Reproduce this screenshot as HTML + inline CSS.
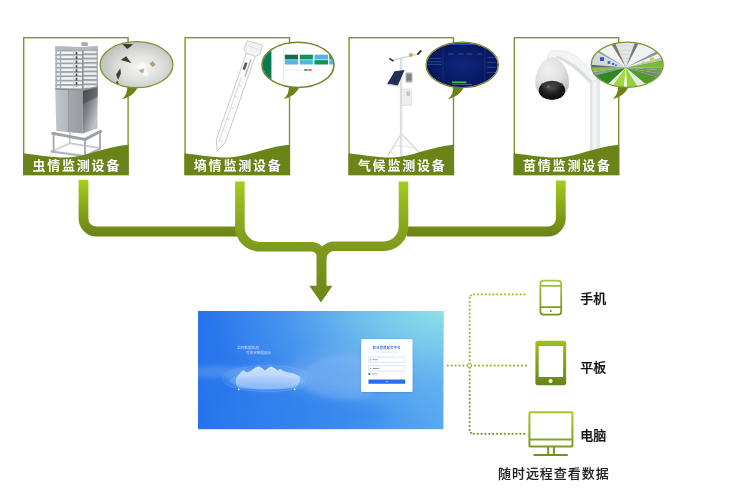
<!DOCTYPE html>
<html lang="zh-CN">
<head>
<meta charset="utf-8">
<title>监测设备</title>
<style>
html,body{margin:0;padding:0;background:#fff;}
body{width:750px;height:500px;overflow:hidden;position:relative;font-family:"Liberation Sans","Noto Sans CJK SC",sans-serif;}
svg{position:absolute;left:0;top:0;display:block;will-change:transform;}
text{font-family:"Liberation Sans","Noto Sans CJK SC",sans-serif;}
.cap{font-size:13px;font-weight:700;fill:#fff;letter-spacing:1.8px;}
.lab{font-size:13px;font-weight:500;fill:#111;stroke:#111;stroke-width:.22px;}
</style>
</head>
<body>
<svg width="750" height="500" viewBox="0 0 750 500">
<defs>
  <linearGradient id="gPipe" gradientUnits="userSpaceOnUse" x1="0" y1="180" x2="0" y2="234">
    <stop offset="0" stop-color="#a5cd1e"/>
    <stop offset="1" stop-color="#6c8416"/>
  </linearGradient>
  <linearGradient id="gPipe2" gradientUnits="userSpaceOnUse" x1="0" y1="181" x2="0" y2="300">
    <stop offset="0" stop-color="#a5cd1e"/>
    <stop offset="0.2" stop-color="#94b61e"/>
    <stop offset="0.45" stop-color="#84a11e"/>
    <stop offset="0.6" stop-color="#7c981d"/>
    <stop offset="1" stop-color="#6c8818"/>
  </linearGradient>
  <linearGradient id="gIcon" x1="0" y1="0" x2="0" y2="1">
    <stop offset="0" stop-color="#a3c628"/>
    <stop offset="1" stop-color="#6a8c1c"/>
  </linearGradient>
  <linearGradient id="gScreen" x1="0" y1="0" x2="1" y2="0">
    <stop offset="0" stop-color="#2673ec"/>
    <stop offset="0.5" stop-color="#3c8bee"/>
    <stop offset="1" stop-color="#58a8f1"/>
  </linearGradient>
  <radialGradient id="gScreenTR" cx="1" cy="0" r="0.95">
    <stop offset="0" stop-color="#93e6e6" stop-opacity=".9"/>
    <stop offset="0.35" stop-color="#8bdcea" stop-opacity=".6"/>
    <stop offset="0.7" stop-color="#80c8f0" stop-opacity=".22"/>
    <stop offset="1" stop-color="#80c8f0" stop-opacity="0"/>
  </radialGradient>
  <linearGradient id="gIconP" gradientUnits="userSpaceOnUse" x1="0" y1="280" x2="0" y2="315">
    <stop offset="0" stop-color="#a6c832"/><stop offset="1" stop-color="#6f911d"/>
  </linearGradient>
  <linearGradient id="gIconT" gradientUnits="userSpaceOnUse" x1="0" y1="341" x2="0" y2="385">
    <stop offset="0" stop-color="#9dc024"/><stop offset="1" stop-color="#658619"/>
  </linearGradient>
  <linearGradient id="gIconM" gradientUnits="userSpaceOnUse" x1="0" y1="411" x2="0" y2="456">
    <stop offset="0" stop-color="#a6c82c"/><stop offset="1" stop-color="#6f911d"/>
  </linearGradient>
  <linearGradient id="gSide" x1="0" y1="0" x2="1" y2="1">
    <stop offset="0" stop-color="#4d5054"/><stop offset="0.4" stop-color="#80848a"/><stop offset="0.8" stop-color="#c2c5c9"/><stop offset="1" stop-color="#b0b3b8"/>
  </linearGradient>
  <linearGradient id="gFront" x1="0" y1="0" x2="1" y2="0">
    <stop offset="0" stop-color="#c2c5c9"/><stop offset="0.47" stop-color="#b4b8bc"/><stop offset="0.5" stop-color="#a4a8ad"/><stop offset="1" stop-color="#989ca2"/>
  </linearGradient>
  <pattern id="pSlat" patternUnits="userSpaceOnUse" x="0" y="49.6" width="10" height="4.3">
    <rect width="10" height="4.3" fill="#f3f4f5"/><rect y="0" width="10" height="1.8" fill="#9fa3a8"/>
  </pattern>
  <pattern id="pSlat2" patternUnits="userSpaceOnUse" x="0" y="49" width="10" height="4.3">
    <rect width="10" height="4.3" fill="#eeeff0"/><rect y="0" width="10" height="1.9" fill="#9da1a5"/>
  </pattern>
  <radialGradient id="gB1" cx="0.55" cy="0.55" r="0.6">
    <stop offset="0" stop-color="#f4f5f4"/><stop offset="0.45" stop-color="#dfe1df"/><stop offset="1" stop-color="#b4b8b4"/>
  </radialGradient>
  <radialGradient id="gB3" cx="0.5" cy="0.5" r="0.6">
    <stop offset="0" stop-color="#10277c"/><stop offset="1" stop-color="#061152"/>
  </radialGradient>
  <linearGradient id="gPole" x1="0" y1="0" x2="1" y2="0">
    <stop offset="0" stop-color="#d5d9dd"/><stop offset="0.4" stop-color="#f7f8f9"/><stop offset="1" stop-color="#dfe2e6"/>
  </linearGradient>
  <radialGradient id="gDome" cx="0.38" cy="0.35" r="0.75">
    <stop offset="0" stop-color="#f1f1f1"/><stop offset="0.55" stop-color="#e0e0e0"/><stop offset="1" stop-color="#c3c3c3"/>
  </radialGradient>
  <radialGradient id="gLens" cx="0.45" cy="0.3" r="0.8">
    <stop offset="0" stop-color="#5a5a5a"/><stop offset="0.5" stop-color="#1c1c1c"/><stop offset="1" stop-color="#050505"/>
  </radialGradient>
  <filter id="blur1" x="-20%" y="-20%" width="140%" height="140%"><feGaussianBlur stdDeviation="1"/></filter>
  <filter id="blur2" x="-30%" y="-30%" width="160%" height="160%"><feGaussianBlur stdDeviation="2.2"/></filter>
  <filter id="blur6" x="-30%" y="-30%" width="160%" height="160%"><feGaussianBlur stdDeviation="7"/></filter>
  <filter id="blurS" x="-10%" y="-10%" width="120%" height="120%"><feGaussianBlur stdDeviation=".45"/></filter>
  <filter id="blurC" x="-10%" y="-20%" width="120%" height="140%"><feGaussianBlur stdDeviation=".75"/></filter>
  <clipPath id="clipScreen"><rect x="198" y="311" width="245.4" height="118.2"/></clipPath>
  <linearGradient id="gCloud" x1="0" y1="0" x2="0" y2="1">
    <stop offset="0" stop-color="#fff" stop-opacity=".8"/><stop offset="0.45" stop-color="#e6f1ff" stop-opacity=".62"/><stop offset="1" stop-color="#cfe4ff" stop-opacity=".3"/>
  </linearGradient>
  <linearGradient id="gDots" gradientUnits="userSpaceOnUse" x1="0" y1="294" x2="0" y2="434">
    <stop offset="0" stop-color="#a8c232"/><stop offset="0.5" stop-color="#98b232"/><stop offset="1" stop-color="#7f9432"/>
  </linearGradient>
  <!-- card wave shape, relative to card origin -->
  <path id="wave" d="M0 116.2 C14 118 30 120.8 45 120.4 C63 120 82 109.6 105.6 107.8 V138 H0 Z"/>
  <!-- speech bubble tail relative to bubble centre -->
  <path id="tail" d="M-9 21.5 C-9.5 27 -11 31 -14.6 34 C-7 32.5 -2 28 1.6 21.5 Z"/>
  <clipPath id="clipB1"><ellipse cx="0" cy="0" rx="36" ry="22.6"/></clipPath>
  <clipPath id="clipB"><ellipse cx="0" cy="0" rx="35.6" ry="22.2"/></clipPath>
</defs>

<!-- ======== connectors ======== -->
<g fill="none" stroke="url(#gPipe)" stroke-width="9.8">
  <path d="M83.5 179.9 V218.5 A13 13 0 0 0 96.5 231.5 H237"/>
  <path d="M560.8 180.4 V218.5 A13 13 0 0 1 547.8 231.5 H407"/>
</g>
<g fill="none" stroke="url(#gPipe2)" stroke-width="9.6">
  <path d="M239.9 181.6 V227 A19.7 19.7 0 0 0 259.6 246.7 H311.5 A10 10 0 0 1 321.5 256.7 V287"/>
  <path d="M403.5 181.6 V226.5 A19.7 19.7 0 0 1 383.8 246.2 H334.5 A13 13 0 0 0 321.5 259.2 V287"/>
</g>
<polygon points="309.3,285.8 332.5,285.8 321,302.6" fill="#6e8a19"/>

<!-- ======== cards ======== -->
<g id="cards">
  <!-- card frames -->
  <g fill="#fff" stroke="#7f9330" stroke-width="1.4">
    <rect x="23.7" y="37.7" width="104.4" height="137"/>
    <rect x="185.1" y="37.7" width="104.4" height="137"/>
    <rect x="349.1" y="37.7" width="104.4" height="137"/>
    <rect x="514.3" y="37.7" width="104.4" height="137"/>
  </g>

  <g id="art1">
    <!-- stand -->
    <g fill="none" stroke-linecap="square">
      <path d="M69.8 132 V143.4 L100 148" stroke="#c3c6ca" stroke-width="1.6"/>
      <path d="M51.6 151.4 L69.8 143.4" stroke="#c9ccd0" stroke-width="1.6"/>
      <path d="M51.8 151.6 L85 156 L100 148.6" stroke="#b1b5ba" stroke-width="2.2"/>
      <path d="M53.6 133 V152 M85 139 V155 M100 131.6 V148.6" stroke="#a9adb2" stroke-width="1.9"/>
      <path d="M53 133.4 L85 139.4 L100.4 131.4" stroke="#9ea2a7" stroke-width="3"/>
    </g>
    <!-- louvre cage -->
    <polygon points="55.2,46.4 82.8,47.2 82.8,90.4 55.2,88.8" fill="url(#pSlat)"/>
    <polygon points="82.8,47.2 97.8,46.2 97.8,86.6 82.8,90.4" fill="url(#pSlat2)"/>
    <path d="M76.5 52 V87" stroke="#2f3135" stroke-width="1.7" stroke-dasharray="2.6 1.7" opacity=".85"/>
    <path d="M73.6 50 V88" stroke="#b9bcc0" stroke-width=".8"/>
    <path d="M56.2 46.4 V88.8 M60.6 46.6 V89 " stroke="#aeb2b6" stroke-width="1.5" fill="none"/>
    <path d="M82.8 47.2 V90.4" stroke="#8f9398" stroke-width="1.6"/>
    <path d="M97.2 46.2 V86.6" stroke="#a6aaae" stroke-width="1.3"/>
    <polygon points="55.2,46.2 82.8,47 97.8,46 97.8,49.2 82.8,50.4 55.2,49.6" fill="#b4b7bb"/>
    <path d="M81.8 46 V42.6 H87.4 V46" fill="#a9acb0" stroke="#96999e" stroke-width=".6"/>
    <!-- lower cabinet -->
    <polygon points="55.2,88.8 82.8,90.4 82.8,133.6 56.3,131" fill="url(#gFront)"/>
    <polygon points="82.8,90.4 97.8,86.6 97.4,128.4 82.8,133.6" fill="url(#gSide)"/>
    <polygon points="82.8,90.4 97.8,86.6 97.7,97 82.8,104" fill="#3c3e42" opacity=".5"/>
    <path d="M68.6 89.6 V132.2" stroke="#8e9297" stroke-width=".8"/>
    <path d="M55.2 88.8 L82.8 90.4 L97.8 86.6" stroke="#8a8e93" stroke-width="1.3" fill="none"/>
  </g>
  <g id="art2">
    <!-- soil probe tube : axis from cap (252.5,50) to tip (217.5,151) -->
    <g transform="translate(252.6 49.5) rotate(19.2)">
      <path d="M-4.7 4 H4.7 V97 L0 107.5 L-4.7 97 Z" fill="#fbfbfb" stroke="#cacccf" stroke-width=".9"/>
      <path d="M-1.5 30 V98 M-1.5 38 H1.5 M-1.5 50 H1.5 M-1.5 62 H1.5 M-1.5 74 H1.5 M-1.5 86 H1.5 M-1.5 97 H1.5" stroke="#c9cbcd" stroke-width=".6" fill="none"/>
      <rect x="-3" y="14.5" width="2.6" height="7.4" fill="#55585c"/>
      <rect x="1" y="10" width="1.4" height="18" fill="#b5b7ba"/>
      <path d="M-8 -6.5 L8 -7.5 L8.6 2.2 L5 5.6 H-5 L-8.6 2.2 Z" fill="#f3f3f3" stroke="#c9cbcd" stroke-width=".8"/>
      <path d="M-8.3 -2 H8.3" stroke="#d6d8da" stroke-width=".7"/>
    </g>
  </g>
  <g id="art3">
    <!-- weather station -->
    <path d="M401 134 L387.6 156 M401.6 134 L422.5 156 M401.3 140 V158" stroke="#d7dadd" stroke-width="1.4" fill="none"/>
    <path d="M392 147 L401 145.4 L414 148" stroke="#e1e3e5" stroke-width=".9" fill="none"/>
    <rect x="400.2" y="58" width="2.3" height="96" fill="#e4e6e8"/>
    <path d="M400.3 58 V154" stroke="#c9ccd0" stroke-width=".6"/>
    <path d="M391 60.6 L420.5 53.4" stroke="#d3d6d9" stroke-width="1.5"/>
    <path d="M389.4 58.4 L393.4 61.2" stroke="#2a2a2a" stroke-width="1.5"/>
    <path d="M417.4 54.6 L421.2 50.4" stroke="#2a2a2a" stroke-width="1.6"/>
    <rect x="409.2" y="53.2" width="3.4" height="3.4" fill="#c7a63a"/>
    <polygon points="394.6,71.2 404.6,70 397.8,85.4 387.2,83.8" fill="#1f2f55"/>
    <polygon points="387.2,83.8 397.8,85.4 397.4,86.6 386.8,85" fill="#cfd2d6"/>
    <rect x="405.6" y="72.6" width="6.8" height="10" rx="1" fill="#a9adb2"/>
    <rect x="406.6" y="74.2" width="4.8" height="6.4" fill="#7d8186"/>
    <rect x="401.4" y="89" width="9.8" height="16.2" fill="#eceeef" stroke="#cfd2d5" stroke-width=".6"/>
    <rect x="406.4" y="91.4" width="3.6" height="4.6" fill="#c3c7cc"/>
  </g>
  <g id="art4">
    <!-- camera pole -->
    <rect x="590.2" y="76" width="9.6" height="80" fill="url(#gPole)"/>
    <path d="M547.4 60 Q547 51 553.6 50.6 L566 51.6 Q571.6 52.4 577 57 L599.6 77.6 L590.2 83.6 Q572 63.6 556 57.6 Z" fill="#f3f4f5" stroke="#d9dcdf" stroke-width=".6"/>
    <path d="M556 57.6 Q572 63.6 590.2 83.6 L592.4 81 Q574 61 557 55.4 Z" fill="#d4d8dc" opacity=".8"/>
    <!-- dome shell -->
    <path d="M551.8 57 C543 58 535.3 70 535.3 82 C535.3 87.4 536.4 91 539.4 93.4 L564.8 93.4 C567.8 91 569 87.4 569 82 C569 70 561 58 551.8 57 Z" fill="url(#gDome)"/>
    <!-- dark lens -->
    <ellipse cx="552" cy="90.4" rx="13.2" ry="9.6" fill="url(#gLens)"/>
    <ellipse cx="552" cy="84.6" rx="11.4" ry="2.6" fill="#3a3a3a" opacity=".7"/>
    <ellipse cx="548.4" cy="86.6" rx="1.4" ry="1" fill="#9a9a9a" opacity=".7"/>
  </g>

  <!-- green wave footers -->
  <g fill="#6b8417">
    <use href="#wave" x="23" y="37"/>
    <use href="#wave" x="184.4" y="37"/>
    <use href="#wave" x="348.4" y="37"/>
    <use href="#wave" x="513.6" y="37"/>
  </g>
  <g class="cap" text-anchor="middle">
    <text x="76.8" y="169.9">虫情监测设备</text>
    <text x="238.2" y="169.9">墒情监测设备</text>
    <text x="402.2" y="169.9">气候监测设备</text>
    <text x="567.4" y="169.9">苗情监测设备</text>
  </g>

  <g id="bubbles">
    <!-- tails -->
    <g fill="#6b8417">
      <use href="#tail" x="136.6" y="65.2"/>
      <use href="#tail" x="298.3" y="65"/>
      <use href="#tail" x="462.8" y="65"/>
      <use href="#tail" x="627.4" y="64.9"/>
    </g>
    <!-- bubble 1 : insect photo -->
    <g transform="translate(136.5 64.7)">
      <g clip-path="url(#clipB1)">
        <rect x="-38" y="-25" width="76" height="50" fill="url(#gB1)"/>
        <g filter="url(#blurS)">
        <g fill="#453d2b">
          <polygon points="-14.2,-20.6 -3.6,-20.8 -6,-18 -9.4,-15.6"/>
          <polygon points="-15.8,-4.6 -10.4,-8.4 -5.2,-1.8 -10.4,-3.2"/>
          <polygon points="-16.2,3.6 -20.4,9.8 -18.4,15.2 -15.6,8.8"/>
          <polygon points="-21.8,19.4 -19,16 -17,21"/>
        </g>
        <g fill="#b39d70">
          <polygon points="2.6,5.4 7.6,3.6 7.2,8.6 4.6,7.8"/>
          <polygon points="12.6,-0.6 16,-3.6 19.2,0 16,2.2"/>
        </g>
        </g>
        <ellipse cx="5.5" cy="1.4" rx="3.6" ry="3" fill="#fff" opacity=".9" filter="url(#blur1)"/>
        <ellipse cx="9" cy="8.6" rx="3" ry="2.6" fill="#fff" opacity=".8" filter="url(#blur1)"/>
        <ellipse cx="12" cy="1.4" rx="2.4" ry="2" fill="#fff" opacity=".7" filter="url(#blur1)"/>
      </g>
      <ellipse cx="0" cy="0" rx="36.4" ry="23" fill="none" stroke="#7c9230" stroke-width="1.3"/>
    </g>
    <!-- bubble 2 : dashboard -->
    <g transform="translate(298 64.9)">
      <g clip-path="url(#clipB)">
        <rect x="-37" y="-24" width="74" height="48" fill="#fdfefe"/>
        <rect x="-37" y="-24" width="10.4" height="48" fill="#0a7a55"/>
        <rect x="-14.6" y="-16" width=".5" height="40" fill="#d9dcdc"/>
        <rect x="-13.2" y="-10.2" width="13.2" height="4.8" fill="#0b6f4c"/>
        <rect x="1.7" y="-10.2" width="13.2" height="4.8" fill="#12925f"/>
        <rect x="16.4" y="-10.2" width="13.6" height="4.8" fill="#56b3ea"/>
        <rect x="31.2" y="-10.2" width="8" height="4.8" fill="#12925f"/>
        <rect x="-13.2" y="-4.8" width="13.2" height="4.4" fill="#56b3ea"/>
        <rect x="1.7" y="-4.8" width="13.2" height="4.4" fill="#56b3ea"/>
        <rect x="16.4" y="-4.8" width="13.6" height="4.4" fill="#12925f"/>
        <rect x="31.2" y="-4.8" width="8" height="4.4" fill="#56b3ea"/>
        <rect x="6.2" y="4.2" width="3.4" height="1.8" fill="#1aa36a"/>
        <rect x="10.4" y="4.2" width="3.2" height="1.8" fill="#ef5a4c"/>
        <rect x="-13" y="4.9" width="18" height=".4" fill="#c9cdd0"/>
      </g>
      <ellipse cx="0" cy="0" rx="36" ry="22.6" fill="none" stroke="#73882a" stroke-width="1.6"/>
    </g>
    <!-- bubble 3 : dark data screen -->
    <g transform="translate(462.2 64.9)">
      <g clip-path="url(#clipB)">
        <rect x="-37" y="-24" width="74" height="48" fill="url(#gB3)"/>
        <rect x="-12" y="-22.6" width="34" height="2.6" fill="#1a66cf" opacity=".8"/>
        <rect x="-19.5" y="-18" width=".5" height="40" fill="#2b4fae" opacity=".7"/>
        <rect x="22.5" y="-18" width=".5" height="40" fill="#2b4fae" opacity=".7"/>
        <g fill="#4f7fd6" opacity=".55">
          <rect x="-34" y="-7" width="13" height=".8"/><rect x="-36" y="-3.5" width="15" height=".8"/><rect x="-36" y="-1" width="15" height=".8"/>
          <rect x="-14" y="-11.5" width="5" height="1"/><rect x="-4" y="-11.5" width="5" height="1"/><rect x="5" y="-11.5" width="5" height="1"/><rect x="15" y="-11.5" width="5" height="1"/>
          <rect x="25" y="-8" width="9" height=".8"/><rect x="25" y="-3" width="9" height=".8"/><rect x="25" y="2" width="9" height=".8"/><rect x="25" y="7" width="9" height=".8"/>
        </g>
        <rect x="-10.2" y="16.6" width="14.4" height="1.7" fill="#2fd23a"/>
        <rect x="-10" y="19.4" width="20" height=".7" fill="#8f93b5" opacity=".8"/>
      </g>
      <ellipse cx="0" cy="0" rx="36.2" ry="22.8" fill="none" stroke="#6f8426" stroke-width="1.1"/>
    </g>
    <!-- bubble 4 : greenhouse -->
    <g transform="translate(627.2 64.8)">
      <g clip-path="url(#clipB)">
        <rect x="-37" y="-24" width="74" height="48" fill="#f0f3f4"/>
        <g filter="url(#blurS)">
        <polygon points="-1.3,2.8 -15.2,-24 10.4,-24" fill="#e3e7e8"/>
        <path d="M-12 -19 H8 M-9.6 -14.6 H6.4 M-7.4 -10.4 H4.8 M-5.4 -6.4 H3.2 M-3.6 -3 H1.8" stroke="#c5cbce" stroke-width=".6" fill="none"/>
        <polygon points="-1.3,2.8 -18,-24 -13.2,-24" fill="#7d7866"/>
        <polygon points="-1.3,2.8 8.4,-24 12.8,-24" fill="#7d7866"/>
        <polygon points="-1.3,2.8 -37,-19.5 -37,-16" fill="#9aa0a4"/>
        <polygon points="-1.3,2.8 37,-17.5 37,-13.5" fill="#8f9698"/>
        <!-- left wall -->
        <polygon points="-1.3,2.8 -37,-15 -37,1" fill="#d3d8db"/>
        <polygon points="-1.3,2.8 -37,0 -37,3" fill="#60676b"/>
        <polygon points="-1.3,2.8 -37,3 -37,7.4" fill="#84c43c"/>
        <polygon points="-1.3,2.8 -37,7.4 -37,12" fill="#8f9597"/>
        <polygon points="-1.3,2.8 -37,12 -37,24 -24,24" fill="#2f8a1e"/>
        <polygon points="-1.3,2.8 -24,24 -17,24" fill="#eef2ee"/>
        <polygon points="-1.3,2.8 -17,24 -3.4,24" fill="#a2d83e"/>
        <polygon points="-1.3,2.8 -3.4,24 0,24" fill="#f2f5f2"/>
        <polygon points="-1.3,2.8 0,24 12,24" fill="#95d139"/>
        <polygon points="-1.3,2.8 12,24 24,24" fill="#e8ede8"/>
        <polygon points="-1.3,2.8 24,24 37,22 37,14.5" fill="#4f9b2a"/>
        <polygon points="-1.3,2.8 37,14.5 37,9.6" fill="#7b8280"/>
        <polygon points="-1.3,2.8 37,9.6 37,5.6" fill="#5fab2e"/>
        <polygon points="-1.3,2.8 37,5.6 37,3" fill="#8a908e"/>
        <polygon points="-1.3,2.8 37,3 37,-5" fill="#74be33"/>
        <polygon points="-1.3,2.8 37,-5 37,-8" fill="#b9c0bf"/>
        <rect x="-27.2" y="-7.6" width="4" height="3.8" fill="#2157c9"/>
        <rect x="-19.6" y="-3.6" width="2.6" height="2.6" fill="#2c60cc"/>
        <rect x="-15" y="-1.8" width="2" height="2" fill="#2c60cc"/>
        <rect x="-12" y="-.4" width="1.6" height="1.6" fill="#3a6ad0"/>
        <rect x="22.6" y="-7.4" width="4.4" height="3.2" fill="#d8d440"/>
        <rect x="14.8" y="-3.4" width="2.6" height="1.8" fill="#d0d060" opacity=".8"/>
        </g>
      </g>
      <ellipse cx="0" cy="0" rx="36" ry="22.6" fill="none" stroke="#7c9230" stroke-width="1.3"/>
    </g>
  </g>
</g>

<!-- ======== platform screen ======== -->
<g id="screen">
  <rect x="198" y="311" width="245.4" height="118.2" fill="url(#gScreen)"/>
  <rect x="198" y="311" width="245.4" height="118.2" fill="url(#gScreenTR)"/>
  <g clip-path="url(#clipScreen)">
    <ellipse cx="350" cy="372" rx="60" ry="26" fill="#7fb4f2" opacity=".35" filter="url(#blur6)"/>
    <ellipse cx="215" cy="372" rx="40" ry="6" fill="#7fb0f5" opacity=".35" filter="url(#blur2)"/>
    <ellipse cx="300" cy="415" rx="90" ry="18" fill="#2f7fee" opacity=".35" filter="url(#blur6)"/>
    <path d="M296 378 C305 368 318 358 336 355 C350 353 362 356 372 362 L372 396 C355 402 330 400 312 392 C304 388 298 384 296 378 Z" fill="#9cc6f8" opacity=".22" filter="url(#blur2)"/>
    <ellipse cx="267" cy="378" rx="42" ry="13" fill="#a9d0ff" opacity=".22" filter="url(#blur2)"/>
    <!-- rings -->
    <ellipse cx="267.3" cy="378.6" rx="45" ry="13" fill="none" stroke="#9cc8fb" stroke-width=".6" opacity=".4"/>
    <ellipse cx="267" cy="380.6" rx="37" ry="8.6" fill="#8fc0fb" opacity=".3"/>
    <ellipse cx="267" cy="381" rx="31" ry="6.6" fill="none" stroke="#cfe4ff" stroke-width=".5" opacity=".4"/>
    <!-- cloud / mountain -->
    <path d="M236.7 377 L239.5 373.5 L243.3 370.3 L247 372.5 L250.5 371 L255 367.8 L258.7 366.3 L262 368 L265 370.5 L268 368 L271.3 366.5 L275 368.6 L277.5 370.4 L280 369 L284 371.2 L289 372.4 L294 373.6 L300 376.6 C301 381 298 386 294.6 388 Q267 391.4 238.6 388 C235.5 385 235 380 236.7 377 Z" fill="url(#gCloud)" filter="url(#blurC)"/>
    <circle cx="238.7" cy="389.4" r=".9" fill="#fff" opacity=".9"/><circle cx="294.7" cy="389.4" r=".9" fill="#fff" opacity=".9"/>
    <!-- slogan -->
    <g fill="#fff" style="font-size:3.6px;font-weight:400" opacity=".72">
      <text x="237.2" y="348.6">实时数据监测</text>
      <text x="246" y="353.6">可视化数据展示</text>
    </g>
    <!-- login panel -->
    <rect x="361" y="339.6" width="51.6" height="53.2" rx="1.6" fill="#1d4f9f" opacity=".35" filter="url(#blur1)"/>
    <rect x="361" y="339" width="51.6" height="53" rx="1.6" fill="#fff"/>
    <text x="386.8" y="349.4" text-anchor="middle" style="font-size:3.1px;font-weight:700;letter-spacing:.4px" fill="#2a6be8">农业管理服务平台</text>
    <rect x="375.8" y="351.8" width="22.2" height=".5" fill="#b9cdf3"/>
    <g fill="#fff" stroke="#b5cdf6" stroke-width=".55">
      <rect x="368.4" y="357" width="36.8" height="5.4" rx=".6"/>
      <rect x="368.4" y="365.7" width="36.8" height="5.4" rx=".6"/>
    </g>
    <g fill="#8c95a6"><rect x="370" y="359.2" width="1.2" height="1.2"/><rect x="372.6" y="359.3" width="5" height=".9"/>
      <rect x="370" y="367.9" width="1.2" height="1.2"/><rect x="372.6" y="368" width="6.6" height=".9"/>
      <rect x="371.8" y="373.5" width="6" height=".8"/></g>
    <circle cx="369.4" cy="373.9" r="1.1" fill="#2a6be8"/>
    <rect x="368.4" y="379.6" width="36.8" height="4.2" rx=".5" fill="#2470ee"/>
    <rect x="385.8" y="381.4" width="2" height=".7" fill="#dce9ff"/>
  </g>
</g>

<!-- ======== dotted links ======== -->
<g fill="none" stroke="url(#gDots)" stroke-width="2.2" stroke-linecap="round" stroke-dasharray="0 3.877">
  <path d="M524.4 294.4 H473"/>
  <path d="M469.7 298 V431"/>
  <path d="M524.2 433.8 H473"/>
  <path d="M447.8 365.6 H527" stroke-dasharray="0 3.9"/>
</g>
<circle cx="471" cy="295.5" r="1.1" fill="#a6bf32"/>
<circle cx="471" cy="432.8" r="1.1" fill="#7f9432"/>
<circle cx="469.5" cy="365.6" r="2" fill="#fff" stroke="#98b232" stroke-width="1"/>

<!-- ======== device icons ======== -->
<g id="icons">
  <!-- phone -->
  <g fill="none" stroke="url(#gIconP)" stroke-width="1.75">
    <rect x="540.4" y="280.6" width="20.8" height="34" rx="3.2"/>
    <path d="M540.4 285.8 H561.2 M540.4 307.2 H561.2"/>
  </g>
  <circle cx="550.8" cy="310.9" r="1" fill="#6f911d"/>
  <!-- tablet -->
  <path fill-rule="evenodd" fill="url(#gIconT)" d="M538 340.8 H563.6 Q566.2 340.8 566.2 343.4 V382.6 Q566.2 385.2 563.6 385.2 H538 Q535.4 385.2 535.4 382.6 V343.4 Q535.4 340.8 538 340.8 Z M538.7 346 V377 H563.1 V346 Z M550.6 379 A2 2 0 1 0 550.61 379 Z"/>
  <!-- monitor -->
  <g fill="none" stroke="url(#gIconM)" stroke-width="2">
    <rect x="529.4" y="412.2" width="43" height="34.4" rx="1.2"/>
    <path d="M529.4 439.6 H572.4 M548.2 447 V455 M553.9 447 V455"/>
    <path d="M533.6 455 H567.8" stroke-width="1.8"/>
  </g>
</g>

<!-- ======== labels ======== -->
<g class="lab">
  <text x="580.3" y="303.3">手机</text>
  <text x="580.3" y="371.6">平板</text>
  <text x="580.3" y="439.7">电脑</text>
  <text x="498" y="478" style="letter-spacing:.95px;stroke-width:.12px;fill:#222;stroke:#222">随时远程查看数据</text>
</g>

</svg>
</body>
</html>
